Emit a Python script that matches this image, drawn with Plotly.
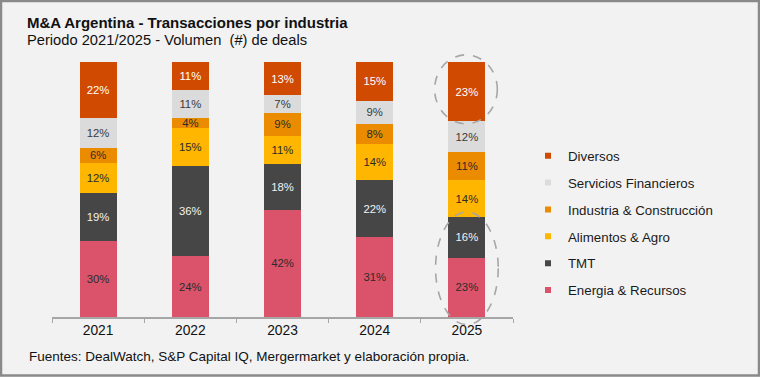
import plotly.graph_objects as go

years = ["2021", "2022", "2023", "2024", "2025"]
industries = ["Energia & Recursos", "TMT", "Alimentos & Agro",
              "Industria & Construcción", "Servicios Financieros", "Diversos"]
energia = [30, 24, 42, 31, 23]
tmt = [19, 36, 18, 22, 16]
alimentos = [12, 15, 11, 14, 14]
industria = [6, 4, 9, 8, 11]
servicios = [12, 11, 7, 9, 12]
diversos = [22, 11, 13, 15, 23]
series = [energia, tmt, alimentos, industria, servicios, diversos]

colors = ["#db536a", "#464646", "#ffb600", "#eb8c00", "#dbdbdb", "#d04a02"]
text_colors = ["#2b2b2b", "#f2f2f2", "#2b2b2b", "#2b2b2b", "#3a3a3a", "#ffffff"]

FONT = "Arial, Liberation Sans, sans-serif"
W, H = 760, 377
ML, MR, MT, MB = 52, 247, 62, 60
PW, PH = W - ML - MR, H - MT - MB

def px_x(p):
    return (p - ML) / PW

def px_y(p):
    return (H - MB - p) / PH

def cat_x(c):
    return (c + 0.5) / len(years)

fig = go.Figure()
for name, vals, col, tc in zip(industries, series, colors, text_colors):
    fig.add_trace(go.Bar(
        x=years, y=vals, name=name, marker=dict(color=col, line=dict(width=0)),
        text=[f"{v}%" for v in vals], textposition="inside",
        insidetextanchor="middle", textangle=0,
        textfont=dict(family=FONT, size=11.3, color=tc),
        showlegend=False, hoverinfo="skip",
    ))

# legend entries (top to bottom: Diversos ... Energia)
for i, (name, col) in enumerate(reversed(list(zip(industries, colors)))):
    fig.add_trace(go.Scatter(
        x=[None], y=[None], mode="markers", name=name,
        marker=dict(symbol="square", size=6, color=col),
        legendgroup=f"g{i}", showlegend=True,
    ))

# dashed ellipses around 2025 highlights
tot25 = sum(s[-1] for s in series)
div_bottom = (tot25 - diversos[-1]) / tot25 * 100
low_top = (energia[-1] + tmt[-1]) / tot25 * 100
ell = dict(type="circle", xref="paper", yref="paper",
           line=dict(color="#a6a6a6", width=1.6, dash="dash"), layer="above")
fig.add_shape(**ell, x0=cat_x(3.65), x1=cat_x(4.33),
              y0=(div_bottom - 1) / 100, y1=1.028)
fig.add_shape(**ell, x0=cat_x(3.66), x1=cat_x(4.34),
              y0=-0.03, y1=(low_top + 1.8) / 100)

# outer frame
fig.add_shape(type="rect", xref="paper", yref="paper",
              x0=px_x(1), x1=px_x(W - 1), y0=px_y(H - 1.5), y1=px_y(1),
              line=dict(color="#8a8a8a", width=2.5), layer="above")

fig.add_annotation(text="<b>M&A Argentina - Transacciones por industria</b>",
                   xref="paper", yref="paper", x=px_x(25), y=px_y(22.5),
                   xanchor="left", yanchor="middle", showarrow=False,
                   font=dict(family=FONT, size=15, color="#111111"))
fig.add_annotation(text="Periodo 2021/2025 - Volumen  (#) de deals",
                   xref="paper", yref="paper", x=px_x(25), y=px_y(39.5),
                   xanchor="left", yanchor="middle", showarrow=False,
                   font=dict(family=FONT, size=14.7, color="#111111"))
fig.add_annotation(text="Fuentes: DealWatch, S&P Capital IQ, Mergermarket y elaboración propia.",
                   xref="paper", yref="paper", x=px_x(27), y=px_y(357),
                   xanchor="left", yanchor="middle", showarrow=False,
                   font=dict(family=FONT, size=13.5, color="#111111"))

fig.update_layout(
    width=W, height=H,
    margin=dict(l=ML, r=MR, t=MT, b=MB, pad=0, autoexpand=False),
    paper_bgcolor="#f2f2f2", plot_bgcolor="#f2f2f2",
    barmode="stack", barnorm="percent", bargap=0.6,
    uniformtext=dict(minsize=11.3, mode="show"),
    font=dict(family=FONT, size=12, color="#111111"),
    showlegend=True,
    legend=dict(x=px_x(528), y=px_y(140.5), xanchor="left", yanchor="top",
                traceorder="grouped", tracegroupgap=6.6,
                font=dict(family=FONT, size=13.3, color="#1a1a1a"),
                bgcolor="rgba(0,0,0,0)", itemwidth=30),
    xaxis=dict(type="category", showline=True, linecolor="#a6a6a6", linewidth=1.5,
               ticks="outside", tickson="boundaries", ticklen=4, tickcolor="#a6a6a6",
               tickfont=dict(family=FONT, size=13.8, color="#111111"),
               showgrid=False, zeroline=False),
    yaxis=dict(range=[0, 100], visible=False, showgrid=False, zeroline=False),
)

fig.write_html("out.html", config={"displayModeBar": False},
               post_script="document.body.style.margin='0';document.body.style.overflow='hidden';")
